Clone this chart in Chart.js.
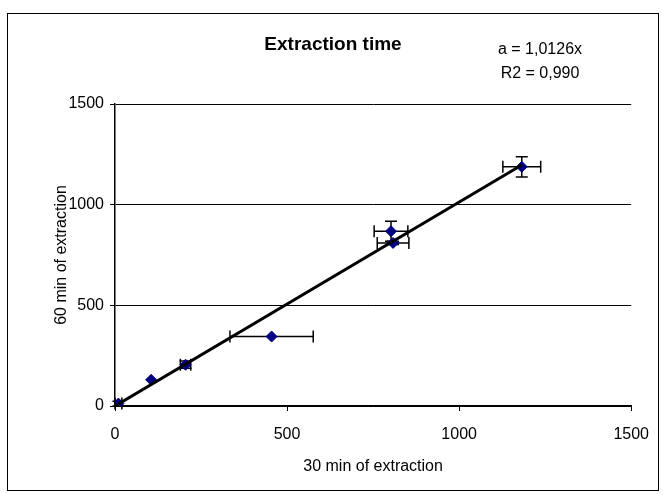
<!DOCTYPE html>
<html>
<head>
<meta charset="utf-8">
<script src="https://cdn.jsdelivr.net/npm/chart.js@4.4.0/dist/chart.umd.min.js"></script>
<style>
  html, body { margin: 0; padding: 0; background: #fff; }
  #wrap { position: relative; width: 663px; height: 495px; }
</style>
</head>
<body>
<div id="wrap"><canvas id="chart"></canvas></div>
<script>
// values
const xValues = [10, 105, 205, 455, 802, 808, 1182];
const yValues = [12, 130, 205, 345, 868, 810, 1188];
const xErrors = [10, 0, 15, 121, 49, 46, 55];
const yErrors = [12, 0, 18, 0, 50, 8, 50];
const slope = 1.0126;
const trendX = [0, 1182];
const titleText = 'Extraction time';
const fitLabels = ['a = 1,0126x', 'R2 = 0,990'];
const xTitle = '30 min of extraction';
const yTitle = '60 min of extraction';

const font = 'Arial, "Liberation Sans", sans-serif';

const points = xValues.map((x, i) => ({ x: x, y: yValues[i] }));
const trend = trendX.map(x => ({ x: x, y: slope * x }));

const extras = {
  id: 'extras',
  beforeDraw(chart) {
    const ctx = chart.ctx;
    ctx.save();
    ctx.fillStyle = '#fff';
    ctx.fillRect(0, 0, chart.width, chart.height);
    ctx.strokeStyle = '#000';
    ctx.lineWidth = 1;
    ctx.strokeRect(7.5, 13.5, 651, 477);
    ctx.restore();
  },
  beforeDatasetsDraw(chart) {
    // error bars, drawn under the markers
    const ctx = chart.ctx;
    const xs = chart.scales.x, ys = chart.scales.y;
    const cap = 6;
    ctx.save();
    ctx.strokeStyle = '#000';
    ctx.lineWidth = 1.5;
    xValues.forEach((x, i) => {
      const px = xs.getPixelForValue(x);
      const py = ys.getPixelForValue(yValues[i]);
      if (xErrors[i] > 0) {
        const l = xs.getPixelForValue(x - xErrors[i]);
        const r = xs.getPixelForValue(x + xErrors[i]);
        ctx.beginPath();
        ctx.moveTo(l, py); ctx.lineTo(r, py);
        ctx.moveTo(l, py - cap); ctx.lineTo(l, py + cap);
        ctx.moveTo(r, py - cap); ctx.lineTo(r, py + cap);
        ctx.stroke();
      }
      if (yErrors[i] > 0) {
        const t = ys.getPixelForValue(yValues[i] + yErrors[i]);
        const b = ys.getPixelForValue(yValues[i] - yErrors[i]);
        ctx.beginPath();
        ctx.moveTo(px, t); ctx.lineTo(px, b);
        ctx.moveTo(px - cap, t); ctx.lineTo(px + cap, t);
        ctx.moveTo(px - cap, b); ctx.lineTo(px + cap, b);
        ctx.stroke();
      }
    });
    ctx.restore();
  },
  afterDraw(chart) {
    const ctx = chart.ctx;
    ctx.save();
    ctx.fillStyle = '#000';
    ctx.textAlign = 'center';
    ctx.textBaseline = 'middle';
    ctx.font = 'bold 19px ' + font;
    ctx.fillText(titleText, 333, 45);
    ctx.font = '16px ' + font;
    ctx.fillText(fitLabels[0], 540, 50);
    ctx.fillText(fitLabels[1], 540, 74);
    ctx.restore();
  }
};

new Chart(document.getElementById('chart'), {
  type: 'scatter',
  data: {
    datasets: [{
      type: 'line',
      data: trend,
      borderColor: '#000',
      borderWidth: 3,
      pointRadius: 0,
      fill: false
    }, {
      data: points,
      pointStyle: 'rectRot',
      pointRadius: 5.5,
      backgroundColor: '#000080',
      borderColor: '#000080',
      borderWidth: 1
    }]
  },
  options: {
    responsive: true,
    maintainAspectRatio: false,
    animation: false,
    layout: { padding: { top: 104, right: 30, bottom: 0, left: 0 } },
    plugins: { legend: { display: false }, tooltip: { enabled: false } },
    scales: {
      x: {
        type: 'linear',
        min: 0, max: 1500,
        ticks: { stepSize: 500, color: '#000', font: { family: font, size: 16 }, padding: 14, maxRotation: 0,
                 callback: v => String(v) },
        grid: { drawOnChartArea: false, drawTicks: true, tickLength: 5, color: '#000' },
        border: { color: '#000', width: 1.5 },
        title: { display: true, text: xTitle, color: '#000', font: { family: font, size: 16 }, padding: { top: 0, bottom: 19 } },
        afterFit(scale) { scale.height = 89; }
      },
      y: {
        type: 'linear',
        min: 0, max: 1500,
        ticks: { stepSize: 500, color: '#000', font: { family: font, size: 16 }, padding: 6,
                 callback: v => String(v) },
        grid: { drawOnChartArea: true, drawTicks: true, tickLength: 5, color: '#000', lineWidth: 1 },
        border: { color: '#000', width: 1.5 },
        title: { display: true, text: yTitle, color: '#000', font: { family: font, size: 16 }, padding: { top: 52, bottom: 0 } },
        afterFit(scale) { scale.width = 115; }
      }
    }
  },
  plugins: [extras]
});
</script>
</body>
</html>
